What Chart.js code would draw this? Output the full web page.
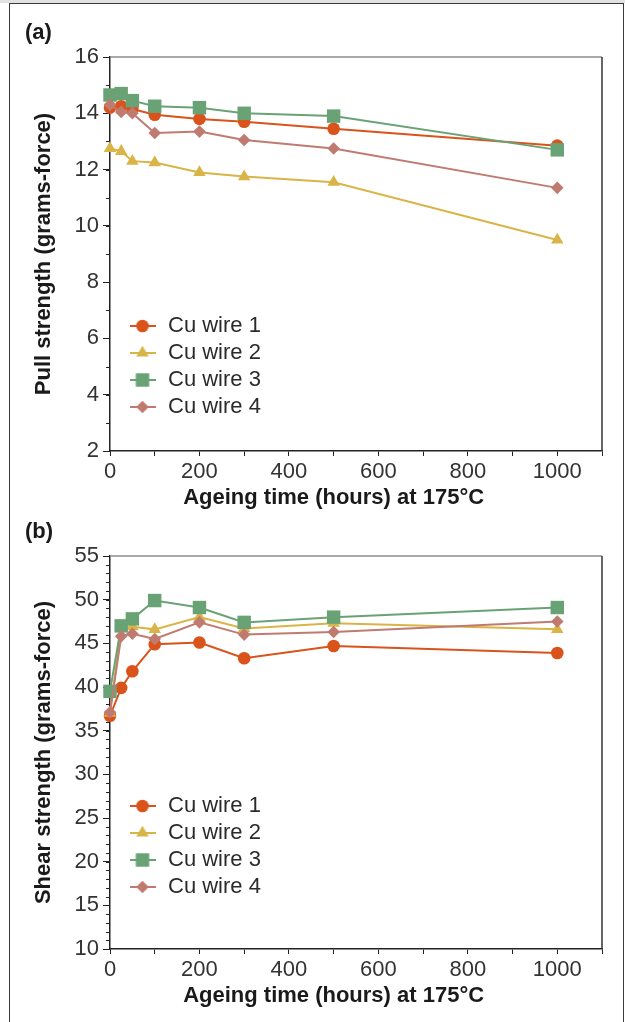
<!DOCTYPE html>
<html>
<head>
<meta charset="utf-8">
<script src="https://cdn.jsdelivr.net/npm/chart.js@4.4.1/dist/chart.umd.min.js"></script>
<style>
  html, body { margin: 0; padding: 0; background: #fff; overflow: hidden; }
  #strip { position: absolute; left: 0; top: 0; width: 625px; height: 3px; background: #e2e2e2; }
  #frame { position: absolute; left: 9px; top: 3px; width: 613px; height: 1040px; border: 1px solid #3a3a3a; border-bottom: none; }
  .panel { position: absolute; left: 0; width: 625px; }
  #panelA { top: 0; height: 515px; }
  #panelB { top: 515px; height: 507px; }
</style>
</head>
<body>
<div id="strip"></div>
<div id="frame"></div>
<div class="panel" id="panelA"><canvas id="pullChart"></canvas></div>
<div class="panel" id="panelB"><canvas id="shearChart"></canvas></div>
<script>
// === DATOS ===
const hours = [0, 25, 50, 100, 200, 300, 500, 1000];
const wireNames = ["Cu wire 1", "Cu wire 2", "Cu wire 3", "Cu wire 4"];
const xTickLabels = [0, 200, 400, 600, 800, 1000];
const xTitle = "Ageing time (hours) at 175°C";

// (a) pull strength
const pullWire1 = [14.2, 14.25, 14.15, 13.95, 13.8, 13.7, 13.45, 12.85];
const pullWire2 = [12.75, 12.65, 12.3, 12.25, 11.9, 11.75, 11.55, 9.5];
const pullWire3 = [14.65, 14.7, 14.45, 14.25, 14.2, 14.0, 13.9, 12.7];
const pullWire4 = [14.3, 14.05, 14.0, 13.3, 13.35, 13.05, 12.75, 11.35];

// (b) shear strength
const shearWire1 = [36.7, 39.9, 41.8, 44.9, 45.1, 43.3, 44.7, 43.9];
const shearWire2 = [37.0, 46.7, 46.9, 46.6, 48.0, 46.7, 47.3, 46.6];
const shearWire3 = [39.5, 47.0, 47.8, 49.9, 49.1, 47.4, 48.0, 49.1];
const shearWire4 = [37.1, 45.8, 46.1, 45.5, 47.4, 46.0, 46.3, 47.5];

// === ESTILO ===
const FONT = "'Liberation Sans', Arial, Helvetica, sans-serif";
Chart.defaults.font.family = FONT;
Chart.defaults.font.size = 22;
Chart.defaults.color = "#333";

const wireColors = ["#d9531b", "#d9b446", "#69a275", "#c07b71"];
const wireStyles = ["circle", "triangle", "rect", "rectRot"];
const wireRadius = [6.3, 7.2, 9.5, 6.3];

// icono de leyenda: línea + marcador
function legendIcon(i) {
  const c = document.createElement("canvas");
  c.width = 26;
  c.height = 20;
  const ctx = c.getContext("2d");
  ctx.strokeStyle = wireColors[i];
  ctx.fillStyle = wireColors[i];
  ctx.lineWidth = 2;
  ctx.beginPath();
  ctx.moveTo(0, 10);
  ctx.lineTo(26, 10);
  ctx.stroke();
  if (Chart.helpers && Chart.helpers.drawPoint) {
    Chart.helpers.drawPoint(ctx, { pointStyle: wireStyles[i], radius: wireRadius[i], borderWidth: 0, rotation: 0 }, 13, 10);
  } else {
    ctx.beginPath();
    ctx.arc(13, 10, 6, 0, Math.PI * 2);
    ctx.fill();
  }
  return c;
}
const legendIcons = wireNames.map((n, i) => legendIcon(i));

function buildDatasets(series) {
  return series.map((vals, i) => ({
    label: wireNames[i],
    data: hours.map((h, j) => ({ x: h, y: vals[j] })),
    borderColor: wireColors[i],
    backgroundColor: wireColors[i],
    pointBackgroundColor: wireColors[i],
    pointStyle: wireStyles[i],
    pointRadius: wireRadius[i],
    pointBorderWidth: 0,
    borderWidth: 2,
    tension: 0,
    clip: false,
    order: 4 - i, // Cu wire 4 encima
  }));
}

// marco del área + ticks menores del eje y
const axisFrame = {
  id: "axisFrame",
  beforeDatasetsDraw(chart) {
    const { ctx, chartArea: a, scales: { y } } = chart;
    ctx.save();
    ctx.lineWidth = 1.5;
    ctx.strokeStyle = "#8c8c8c";
    ctx.beginPath();
    ctx.moveTo(a.left, a.top);
    ctx.lineTo(a.right, a.top);
    ctx.stroke();
    ctx.strokeStyle = "#333";
    ctx.beginPath();
    ctx.moveTo(a.right, a.top);
    ctx.lineTo(a.right, a.bottom);
    ctx.stroke();
    ctx.lineWidth = 1;
    ctx.strokeStyle = "#222";
    ctx.beginPath();
    for (let v = y.min; v <= y.max; v++) {
      const py = Math.round(y.getPixelForValue(v)) + 0.5;
      ctx.moveTo(a.left - 4, py);
      ctx.lineTo(a.left, py);
    }
    ctx.stroke();
    ctx.restore();
  },
};

// etiqueta del panel y título del eje x (centrado bajo 0..1000)
const panelText = {
  id: "panelText",
  afterDraw(chart, args, opts) {
    const { ctx, chartArea, scales } = chart;
    ctx.save();
    ctx.fillStyle = "#1a1a1a";
    ctx.font = "bold 22px " + FONT;
    ctx.textBaseline = "middle";
    ctx.textAlign = "left";
    ctx.fillText(opts.label, chartArea.left - 85, chartArea.top + opts.labelDy);
    ctx.textAlign = "center";
    ctx.fillText(xTitle, scales.x.getPixelForValue(500), chartArea.bottom + 47);
    ctx.restore();
  },
};

// coloca la leyenda dentro del área del gráfico
const legendPlacer = {
  id: "legendPlacer",
  afterLayout(chart, args, opts) {
    const lg = chart.legend;
    if (!lg) return;
    const w = lg.width, h = lg.height;
    lg.left = chart.chartArea.left + opts.dx;
    lg.top = chart.chartArea.top + opts.dy;
    lg.right = lg.left + w;
    lg.bottom = lg.top + h;
  },
};

function makeChart(canvasId, series, cfg) {
  return new Chart(document.getElementById(canvasId), {
    type: "line",
    data: { datasets: buildDatasets(series) },
    plugins: [axisFrame, panelText, legendPlacer],
    options: {
      responsive: true,
      maintainAspectRatio: false,
      animation: false,
      layout: { padding: { left: 0, right: 23, top: cfg.padTop, bottom: 0 } },
      plugins: {
        tooltip: { enabled: false },
        legend: {
          position: "chartArea",
          align: "start",
          labels: {
            usePointStyle: true,
            pointStyleWidth: 29,
            padding: 5,
            color: "#2b2b2b",
            font: { size: 22 },
            generateLabels(chart) {
              const items = Chart.defaults.plugins.legend.labels.generateLabels(chart);
              items.forEach(item => { item.pointStyle = legendIcons[item.datasetIndex]; });
              return items;
            },
            sort: (a, b) => a.datasetIndex - b.datasetIndex,
          },
        },
        legendPlacer: { dx: 13, dy: cfg.legendDy },
        panelText: { label: cfg.label, labelDy: cfg.labelDy },
      },
      scales: {
        x: {
          type: "linear",
          position: "bottom",
          min: 0,
          max: 1100,
          afterFit(scale) { scale.height = cfg.xHeight; },
          ticks: {
            stepSize: 100,
            autoSkip: false,
            maxRotation: 0,
            padding: 3,
            color: "#333",
            callback: v => (xTickLabels.includes(v) ? String(v) : ""),
          },
          grid: { drawOnChartArea: false, tickLength: 5, tickColor: "#222", tickWidth: 1 },
          border: { color: "#222", width: 1.5 },
        },
        y: {
          position: "left",
          min: cfg.yMin,
          max: cfg.yMax,
          afterFit(scale) { scale.width = 110; },
          ticks: { stepSize: cfg.yStep, padding: 4, color: "#333" },
          grid: { drawOnChartArea: false, tickLength: 7, tickColor: "#222", tickWidth: 1 },
          border: { color: "#222", width: 1.5 },
          title: {
            display: true,
            text: cfg.yTitle,
            color: "#1a1a1a",
            font: { size: 22, weight: "bold" },
            padding: { top: 31, bottom: 0 },
          },
        },
      },
    },
  });
}

makeChart("pullChart", [pullWire1, pullWire2, pullWire3, pullWire4], {
  label: "(a)", labelDy: -24, padTop: 57, xHeight: 64,
  yMin: 2, yMax: 16, yStep: 2, yTitle: "Pull strength (grams-force)",
  legendDy: 253,
});

makeChart("shearChart", [shearWire1, shearWire2, shearWire3, shearWire4], {
  label: "(b)", labelDy: -24, padTop: 41, xHeight: 73,
  yMin: 10, yMax: 55, yStep: 5, yTitle: "Shear strength (grams-force)",
  legendDy: 234,
});
</script>
</body>
</html>
